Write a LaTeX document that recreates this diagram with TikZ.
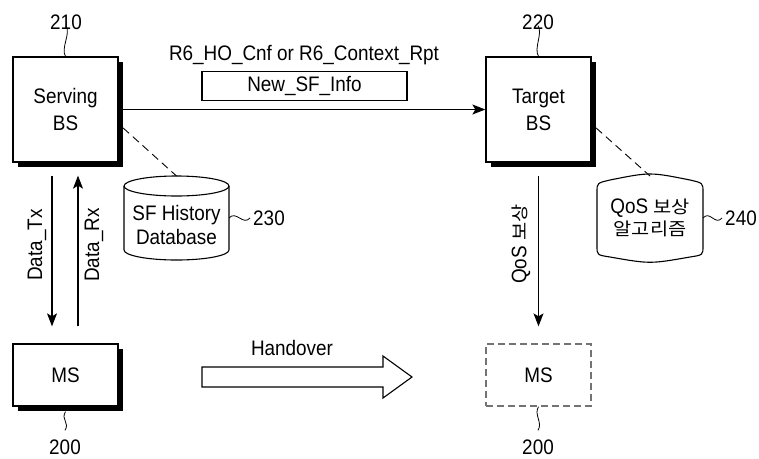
\documentclass[tikz,border=0pt]{standalone}
\usepackage{fontspec}
\setmainfont{Liberation Sans}[FakeStretch=0.9]
\newfontfamily\kr{Noto Sans CJK KR}[Scale=0.84, FakeStretch=1.12]
\usetikzlibrary{arrows.meta,shadows}

\begin{document}
\begin{tikzpicture}[x=1pt,y=-1pt,
  every node/.style={font=\fontsize{21}{27}\selectfont},
  box/.style={draw, line width=1.3pt, fill=white, minimum width=105pt,
    inner sep=0pt, align=center},
  shadowed/.style={drop shadow={shadow xshift=4.5pt, shadow yshift=-4.5pt,
    fill=black, opacity=1}},
  arr/.style={line width=1.2pt, -{Stealth[length=13pt,width=10pt,inset=3pt]}},
  dashline/.style={line width=0.9pt, dash pattern=on 8pt off 5pt},
  refnum/.style={inner sep=0pt},
  squig/.style={line width=0.8pt},
  outline/.style={line width=1.1pt}
]
\useasboundingbox (0,0) rectangle (759,458);

% base stations and mobile stations
\node[box, shadowed, minimum height=105pt] (sbs) at (65.5,109.5) {Serving\\BS};
\node[box, shadowed, minimum height=105pt] (tbs) at (538.5,109.5) {Target\\BS};
\node[box, shadowed, minimum height=62pt] (ms1) at (65.5,375) {MS};
\node[box, draw=black!55, dash pattern=on 7pt off 4pt, minimum height=62pt] (ms2) at (538.5,375) {MS};

% reference numerals
\node[refnum] (l210) at (66,22) {210};
\node[refnum] (l220) at (538,22) {220};
\node[refnum] (l200a) at (65,447) {200};
\node[refnum] (l200b) at (538,447) {200};
\node[refnum] (l230) at (269,218) {230};
\node[refnum] (l240) at (741,218) {240};

\draw[squig] (sbs.north) .. controls +(-5,-8) and +(5,8) .. ([yshift=4pt]l210.south);
\draw[squig] (tbs.north) .. controls +(-5,-8) and +(5,8) .. ([yshift=4pt]l220.south);
\draw[squig] ([yshift=-5pt]ms1.south) .. controls +(-5,8) and +(5,-8) .. ([yshift=9pt]l200a.north);
\draw[squig] (ms2.south) .. controls +(-5,8) and +(5,-8) .. ([yshift=9pt]l200b.north);

% message from serving to target
\node (msg) at (304,55) {R6\_HO\_Cnf or R6\_Context\_Rpt};
\node[draw, line width=1.1pt, minimum width=205pt, minimum height=29pt, inner sep=0pt] (info) at (304.5,86) {New\_SF\_Info};
\draw[arr] (sbs) -- (tbs);

% SF history database cylinder
\draw[outline, fill=white] (124,186) -- (124,250)
  arc[start angle=180, end angle=360, x radius=52.5pt, y radius=10pt] -- (229,186);
\draw[outline] (176.5,186) ellipse [x radius=52.5pt, y radius=10pt];
\coordinate (dbtop) at (176.5,176);
\coordinate (dbright) at (229,218);
\node[align=center, inner sep=0pt, font=\fontsize{21}{24}\selectfont] (db) at (176.5,225) {SF History\\Database};
\draw[dashline] ([xshift=4.5pt,yshift=-18.5pt]sbs.east) -- (dbtop);
\draw[squig] (dbright) .. controls +(7,-8) and +(-7,8) .. ([xshift=-3pt]l230.west);

% QoS compensation algorithm store
\draw[outline] (597,192) .. controls (597,183) .. (610,180)
  .. controls (650,172) .. (690,180) .. controls (703,183) .. (703,192)
  -- (703,246) .. controls (703,255) .. (690,257)
  .. controls (650,264) .. (610,257) .. controls (597,255) .. (597,246) -- cycle;
\coordinate (qtop) at (650,176);
\coordinate (qright) at (703,218);
\node[align=center, inner sep=0pt, font=\fontsize{21}{22}\selectfont] (qos) at (650,218) {QoS {\kr 보상}\\{\kr 알고리즘}};
\draw[dashline] ([xshift=4.5pt,yshift=-18.5pt]tbs.east) -- (qtop);
\draw[squig] (qright) .. controls +(7,-8) and +(-7,8) .. ([xshift=-3pt]l240.west);

% data exchange between serving BS and MS
\draw[arr, shorten <=13pt, shorten >=17pt] ([xshift=-13.5pt]sbs.south) -- ([xshift=-13.5pt]ms1.north);
\draw[arr, shorten <=17pt, shorten >=13pt] ([xshift=12.5pt]ms1.north) -- ([xshift=12.5pt]sbs.south);
\node[rotate=90, inner sep=0pt] (tx) at (37,245) {Data\_Tx};
\node[rotate=90, inner sep=0pt] (rx) at (94,245) {Data\_Rx};

% QoS compensation from target BS to MS
\draw[arr, shorten <=13pt, shorten >=17pt] (tbs.south) -- (ms2.north);
\node[rotate=90, inner sep=0pt] (qlab) at (521,244) {QoS {\kr 보상}};

% handover arrow
\draw[outline] (202,367) -- (383,367) -- (383,356) -- (412,377) -- (383,398)
  -- (383,387) -- (202,387) -- cycle;
\node (ho) at (292,348) {Handover};
\end{tikzpicture}
\end{document}
